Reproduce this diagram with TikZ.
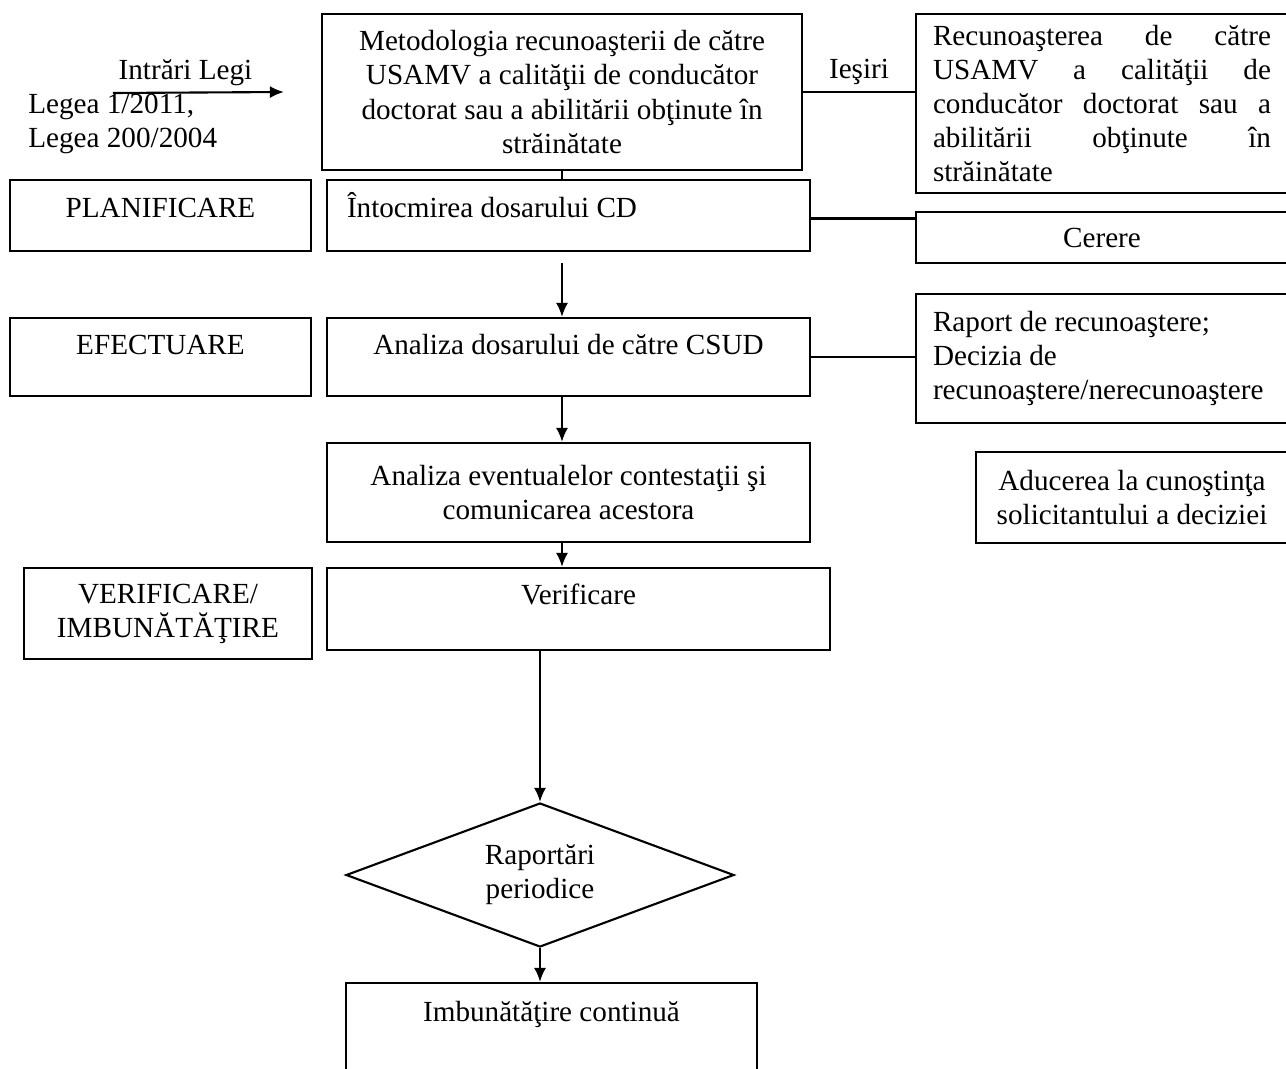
\documentclass[tikz,border=0pt]{standalone}
\usepackage{fontspec}
\setmainfont{Liberation Serif}
\usepackage{tikz}
\usetikzlibrary{shapes.geometric, shapes.misc, arrows.meta}
\tikzstyle{phase} = [rectangle, minimum width=6.02cm, minimum height=1.42cm, text centered, draw=black, line width=1.2pt]
\tikzstyle{process} = [rectangle, minimum width=9.66cm, minimum height=1.42cm, text centered, draw=black, line width=1.2pt]
\tikzstyle{output} = [rectangle, minimum width=7.44cm, inner xsep=0.34cm, inner ysep=0.1cm, text width=6.76cm, align=flush left, draw=black, line width=1.2pt]
\tikzstyle{decision} = [diamond, aspect=2.7, minimum width=7.76cm, minimum height=2.88cm, inner sep=0pt, text centered, align=center, draw=black, line width=1.2pt]
\tikzstyle{arrow} = [line width=1.2pt, -{Latex[length=0.28cm, width=0.24cm]}]
\tikzstyle{link} = [line width=1.2pt]

\begin{document}
\begin{tikzpicture} [node distance=2cm, font=\fontsize{16.6}{19.4}\selectfont]
        \useasboundingbox (0,0) rectangle (25.72,-21.36);

        % middle column
        \node (meto) [process, minimum width=9.6cm, minimum height=3.12cm, align=center] at (11.24,-1.84) {Metodologia recunoaşterii de către\\USAMV a calităţii de conducător\\doctorat sau a abilitării obţinute în\\străinătate};
        \node (intoc) [process, below of=meto, node distance=2.47cm, xshift=0.13cm, text width=8.86cm, inner xsep=0.4cm, align=flush left, text height=0.4cm, text depth=0.31cm] {Întocmirea dosarului CD};
        \node (csud) [process, below of=intoc, node distance=2.83cm, minimum height=1.56cm, text height=0.4cm, text depth=0.49cm] {Analiza dosarului de către CSUD};
        \node (contest) [process, below of=csud, node distance=2.71cm, minimum height=1.98cm, align=center] {Analiza eventualelor contestaţii şi\\comunicarea acestora};
        \node (verif) [process, below of=contest, node distance=2.33cm, xshift=0.2cm, minimum width=10.06cm, minimum height=1.64cm, text height=0.4cm, text depth=0.57cm] {Verificare};
        \node (rap) [decision, below of=verif, node distance=5.32cm, xshift=-0.77cm] {Raportări\\periodice};
        \node (imbun) [process, below of=rap, node distance=3.08cm, xshift=0.23cm, minimum width=8.22cm, minimum height=1.84cm, text height=0.4cm, text depth=0.69cm] {Imbunătăţire continuă};

        % left column
        \node (plan) [phase, left of=intoc, node distance=8.16cm, text height=0.4cm, text depth=0.31cm] {PLANIFICARE};
        \node (efect) [phase, left of=csud, node distance=8.16cm, minimum height=1.56cm, text height=0.4cm, text depth=0.49cm] {EFECTUARE};
        \node (verimb) [phase, left of=verif, node distance=8.21cm, yshift=-0.09cm, minimum width=5.76cm, minimum height=1.82cm, align=center] {VERIFICARE/\\IMBUNĂTĂŢIRE};

        % right column
        \node (rec) [output, right of=meto, node distance=10.8cm, yshift=-0.23cm, minimum height=3.58cm] {Recunoaşterea \hfill de \hfill către\\USAMV \hfill a \hfill calităţii \hfill de\\conducător \hfill doctorat \hfill sau \hfill a\\abilitării \hfill obţinute \hfill în\\străinătate};
        \node (cerere) [output, right of=intoc, node distance=10.67cm, yshift=-0.44cm, minimum height=1.02cm, align=flush center] {Cerere};
        \node (raport) [output, right of=csud, node distance=10.67cm, yshift=-0.03cm, minimum height=2.58cm] {Raport de recunoaştere;\\Decizia de\\recunoaştere/nerecunoaştere};
        \node (aducere) [output, right of=contest, node distance=11.27cm, yshift=-0.1cm, minimum width=6.24cm, text width=5.56cm, minimum height=1.82cm, align=flush center] {Aducerea la cunoştinţa\\solicitantului a deciziei};

        % inputs
        \node (legi) [anchor=west, align=left, inner sep=0pt] at (0.56,-2.48) {Legea 1/2011,\\Legea 200/2004};
        \coordinate (instart) at (2.26,-1.86);
        \coordinate (inend) at ([xshift=-0.74cm]meto.west);

        \draw[arrow] (instart) -- node[above, xshift=-0.26cm] {Intrări Legi} (inend);
        \draw[link] (meto.east) -- node[above] {Ieşiri} (meto.east -| rec.west);
        \draw[link] (meto.south) -- (meto.south |- intoc.north);
        \draw[link] ([yshift=-0.06cm]intoc.east) -- ([yshift=-0.06cm]intoc.east -| cerere.west);
        \draw[link] (csud.east) -- (csud.east -| raport.west);
        \draw[arrow] ([yshift=-0.22cm]intoc.south -| meto.south) -- (csud.north -| meto.south);
        \draw[arrow] (csud.south -| meto.south) -- (contest.north -| meto.south);
        \draw[arrow] (contest.south -| meto.south) -- (verif.north -| meto.south);
        \draw[arrow] (verif.south -| rap.north) -- (rap.north);
        \draw[arrow] (rap.south) -- (imbun.north -| rap.south);
    \end{tikzpicture}
\end{document}
